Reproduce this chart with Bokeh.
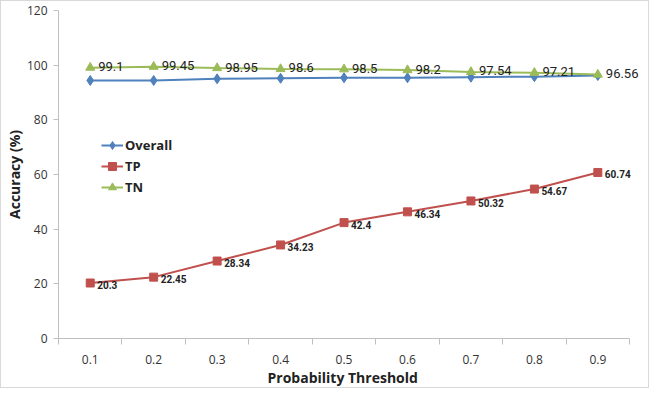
from bokeh.plotting import figure
from bokeh.models import Range1d, FixedTicker, PrintfTickFormatter, ColumnDataSource, LabelSet, Title
from bokeh.core.properties import value
from bokeh.embed import file_html
from bokeh.resources import INLINE

# ---- data ----
thresholds = [0.1, 0.2, 0.3, 0.4, 0.5, 0.6, 0.7, 0.8, 0.9]
overall = [94.4, 94.4, 95.0, 95.2, 95.4, 95.4, 95.6, 95.8, 96.2]
tp = [20.3, 22.45, 28.34, 34.23, 42.4, 46.34, 50.32, 54.67, 60.74]
tn = [99.1, 99.45, 98.95, 98.6, 98.5, 98.2, 97.54, 97.21, 96.56]
y_ticks = [0, 20, 40, 60, 80, 100, 120]

tp_text = ["20.3", "22.45", "28.34", "34.23", "42.4", "46.34", "50.32", "54.67", "60.74"]
tn_text = ["99.1", "99.45", "98.95", "98.6", "98.5", "98.2", "97.54", "97.21", "96.56"]

BLUE = "#4F81BD"
RED = "#C0504D"
GREEN = "#9BBB59"
FONT = "Open Sans"
LABEL_FONT = "Roboto"

W, H = 649, 388
LEFT, RIGHT = 55, 1
AXIS_PX = 573  # pixel length of the drawn x axis

step = thresholds[1] - thresholds[0]
boundaries = [thresholds[0] - step / 2] + [(a + b) / 2 for a, b in zip(thresholds[:-1], thresholds[1:])] + [thresholds[-1] + step / 2]
span = boundaries[-1] - boundaries[0]
x_end = boundaries[0] + span * (W - LEFT - RIGHT) / AXIS_PX

p = figure(width=W, height=H, output_backend="svg", toolbar_location=None,
           x_range=Range1d(boundaries[0], x_end), y_range=Range1d(0, 120),
           min_border_left=LEFT, min_border_right=RIGHT, min_border_top=9, min_border_bottom=40)
p.styles = {"border": "1px solid #d9d9d9"}
p.outline_line_color = None
p.grid.grid_line_color = None
p.background_fill_color = "white"
p.border_fill_color = "white"

# axes
p.xaxis.bounds = (boundaries[0], boundaries[-1])
p.xaxis.ticker = FixedTicker(ticks=thresholds, minor_ticks=boundaries)
p.xaxis.formatter = PrintfTickFormatter(format="%.1f")
p.xaxis.major_tick_line_color = None
p.xaxis.major_tick_out = 0
p.xaxis.minor_tick_line_color = "#bfbfbf"
p.xaxis.minor_tick_out = 6
p.xaxis.minor_tick_in = 0
p.yaxis.ticker = FixedTicker(ticks=y_ticks)
p.yaxis.minor_tick_line_color = None
p.yaxis.major_tick_out = 5
p.yaxis.major_tick_in = 0
p.yaxis.major_tick_line_color = "#bfbfbf"
for ax in (p.xaxis, p.yaxis):
    ax.axis_line_color = "#bfbfbf"
    ax.major_label_text_font = FONT
    ax.major_label_text_font_size = "12px"
    ax.major_label_text_color = "#333333"
    ax.axis_label_text_font = FONT
    ax.axis_label_text_font_size = "14px"
    ax.axis_label_text_font_style = "bold"
    ax.axis_label_text_color = "#222222"
p.yaxis.axis_label = "Accuracy (%)"
p.xaxis.major_label_standoff = 10
p.yaxis.major_label_standoff = 6
p.yaxis.axis_label_standoff = 0

# x-axis title, centred under the drawn axis (not the wider frame)
p.add_layout(Title(text="Probability Threshold", align="left", offset=209, standoff=2,
                   vertical_align="top",
                   text_font=FONT, text_font_size="14px", text_font_style="bold",
                   text_color="#222222"), "below")

# series
p.line(thresholds, overall, color=BLUE, line_width=2, legend_label="Overall")
p.scatter(thresholds, overall, marker="diamond", size=10, color=BLUE, legend_label="Overall")
p.line(thresholds, tp, color=RED, line_width=2, legend_label="TP")
p.scatter(thresholds, tp, marker="square", size=8, color=RED, legend_label="TP")
p.line(thresholds, tn, color=GREEN, line_width=2, legend_label="TN")
p.scatter(thresholds, tn, marker="triangle", size=9, color=GREEN, legend_label="TN")

# data labels
tn_src = ColumnDataSource(dict(x=thresholds, y=tn, t=tn_text))
p.add_layout(LabelSet(x="x", y="y", text="t", source=tn_src, x_offset=8, y_offset=1,
                      text_font=value(LABEL_FONT), text_font_size="13px",
                      text_baseline="middle", text_color="#222222"))
tp_src = ColumnDataSource(dict(x=thresholds, y=tp, t=tp_text))
p.add_layout(LabelSet(x="x", y="y", text="t", source=tp_src, x_offset=7, y_offset=-2,
                      text_font=value(LABEL_FONT), text_font_size="10px",
                      text_font_style="bold", text_baseline="middle",
                      text_color="#222222"))

# legend
lg = p.legend[0]
lg.location = (43, 141)
lg.border_line_color = None
lg.background_fill_alpha = 0
lg.label_text_font = FONT
lg.label_text_font_size = "13px"
lg.label_text_font_style = "bold"
lg.label_text_color = "#222222"
lg.glyph_width = 22
lg.glyph_height = 20
lg.label_height = 20
lg.label_standoff = 2
lg.spacing = 1
lg.padding = 0
lg.margin = 0

open("out.html", "w").write(file_html(p, INLINE))
